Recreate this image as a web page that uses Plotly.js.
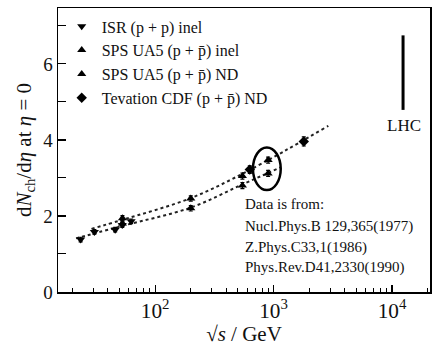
<!DOCTYPE html>
<html>
<head>
<meta charset="utf-8">
<script src="https://cdn.plot.ly/plotly-3.0.1.min.js"></script>
<style>html,body{margin:0;padding:0;background:#fff;}#chart{width:434px;height:346px;}</style>
</head>
<body>
<div id="chart"></div>
<script>
// Data
var isrX = [23.5, 30.7, 46, 52.8, 62.7];
var isrY = [1.38, 1.58, 1.64, 1.76, 1.86];
var isrErr = [0.06, 0.06, 0.06, 0.06, 0.06];

var ua5InelX = [53, 200, 546, 900];
var ua5InelY = [1.80, 2.20, 2.80, 3.12];
var ua5InelErr = [0.07, 0.07, 0.08, 0.08];

var ua5NdX = [53, 200, 546, 900];
var ua5NdY = [1.94, 2.46, 3.05, 3.47];
var ua5NdErr = [0.07, 0.07, 0.08, 0.08];

var cdfX = [630, 1800];
var cdfY = [3.22, 3.96];
var cdfErr = [0.1, 0.12];

// dotted fit curves
var fitNdX = [29, 53, 200, 630, 2900];
var fitNdY = [1.66, 1.90, 2.47, 3.21, 4.37];
var fitInelX = [21.5, 53, 200, 546, 1150];
var fitInelY = [1.41, 1.74, 2.22, 2.83, 3.28];

// LHC bar
var lhcX = [12400, 12400];
var lhcY = [4.79, 6.75];

// Ellipse around the 900 GeV points
var ellX = [670, 1150];
var ellY = [2.68, 3.80];

var legendNames = ['ISR (p + p) inel', 'SPS UA5 (p + p\u0304) inel', 'SPS UA5 (p + p\u0304) ND', 'Tevation CDF (p + p\u0304) ND'];
var refLines = ['Data is from:', 'Nucl.Phys.B 129,365(1977)', 'Z.Phys.C33,1(1986)', 'Phys.Rev.D41,2330(1990)'];

var FONT = 'Liberation Serif, Times New Roman, serif';

function pts(x, y, err, sym, name) {
  return {
    x: x, y: y, type: 'scatter', mode: 'markers', name: name,
    marker: {symbol: sym, size: 8, color: '#000'},
    error_y: {type: 'data', array: err, visible: true, color: '#000', thickness: 1.2, width: 2}
  };
}

var traces = [
  {x: fitNdX, y: fitNdY, type: 'scatter', mode: 'lines', showlegend: false,
   line: {color: '#222', width: 2, dash: 'dot', shape: 'spline'}, hoverinfo: 'skip'},
  {x: fitInelX, y: fitInelY, type: 'scatter', mode: 'lines', showlegend: false,
   line: {color: '#222', width: 2, dash: 'dot', shape: 'spline'}, hoverinfo: 'skip'},
  {x: lhcX, y: lhcY, type: 'scatter', mode: 'lines', showlegend: false,
   line: {color: '#000', width: 3}},
  pts(isrX, isrY, isrErr, 'triangle-down', legendNames[0]),
  pts(ua5InelX, ua5InelY, ua5InelErr, 'triangle-up', legendNames[1]),
  pts(ua5NdX, ua5NdY, ua5NdErr, 'triangle-up', legendNames[2]),
  pts(cdfX, cdfY, cdfErr, 'diamond', legendNames[3])
];

var annYs = [0.31, 0.232, 0.155, 0.085];
var annotations = refLines.map(function (t, i) {
  return {text: t, xref: 'paper', yref: 'paper', x: 0.497, y: annYs[i],
          xanchor: 'left', yanchor: 'middle', showarrow: false,
          font: {family: FONT, size: 15, color: '#111'}};
});
annotations.push({text: 'LHC', xref: 'paper', yref: 'paper', x: 0.93, y: 0.585,
  xanchor: 'center', yanchor: 'middle', showarrow: false,
  font: {family: FONT, size: 17, color: '#111'}});

var layout = {
  width: 434, height: 346,
  margin: {l: 58, r: 4, t: 8, b: 54},
  paper_bgcolor: '#fff', plot_bgcolor: '#fff',
  font: {family: FONT, color: '#111'},
  showlegend: true,
  legend: {x: 0.01, y: 0.995, xanchor: 'left', yanchor: 'top', bgcolor: 'rgba(0,0,0,0)',
           font: {family: FONT, size: 16, color: '#111'}, tracegroupgap: 0, itemwidth: 30},
  xaxis: {
    type: 'log', range: [1.18, 4.321], showgrid: false, zeroline: false,
    showline: true, linecolor: '#000', linewidth: 1.5, mirror: true,
    ticks: 'inside', ticklen: 7, tickwidth: 1.2, tickcolor: '#000',
    dtick: 1, exponentformat: 'power', showexponent: 'all',
    tickfont: {family: FONT, size: 17, color: '#111'},
    minor: {ticks: 'inside', ticklen: 4, tickwidth: 1, tickcolor: '#000', dtick: 'D1', showgrid: false},
    title: {text: '\u221A<i>s</i> / GeV', font: {family: FONT, size: 21, color: '#111'}, standoff: 8}
  },
  yaxis: {
    range: [0, 7.47], showgrid: false, zeroline: false,
    showline: true, linecolor: '#000', linewidth: 1.5, mirror: true,
    ticks: 'inside', ticklen: 8, tickwidth: 1.2, tickcolor: '#000',
    dtick: 2, tickfont: {family: FONT, size: 19, color: '#111'},
    minor: {ticks: 'inside', ticklen: 8, tickwidth: 1, tickcolor: '#000', dtick: 1, showgrid: false},
    title: {text: 'd<i>N</i><sub>ch</sub>/d<i>\u03B7</i> at <i>\u03B7</i> = 0', font: {family: FONT, size: 21, color: '#111'}, standoff: 6}
  },
  shapes: [{type: 'circle', xref: 'x', yref: 'y', x0: ellX[0], x1: ellX[1], y0: ellY[0], y1: ellY[1],
            line: {color: '#000', width: 2.5}}],
  annotations: annotations
};

Plotly.newPlot('chart', traces, layout, {staticPlot: true, displayModeBar: false});
</script>
</body>
</html>
